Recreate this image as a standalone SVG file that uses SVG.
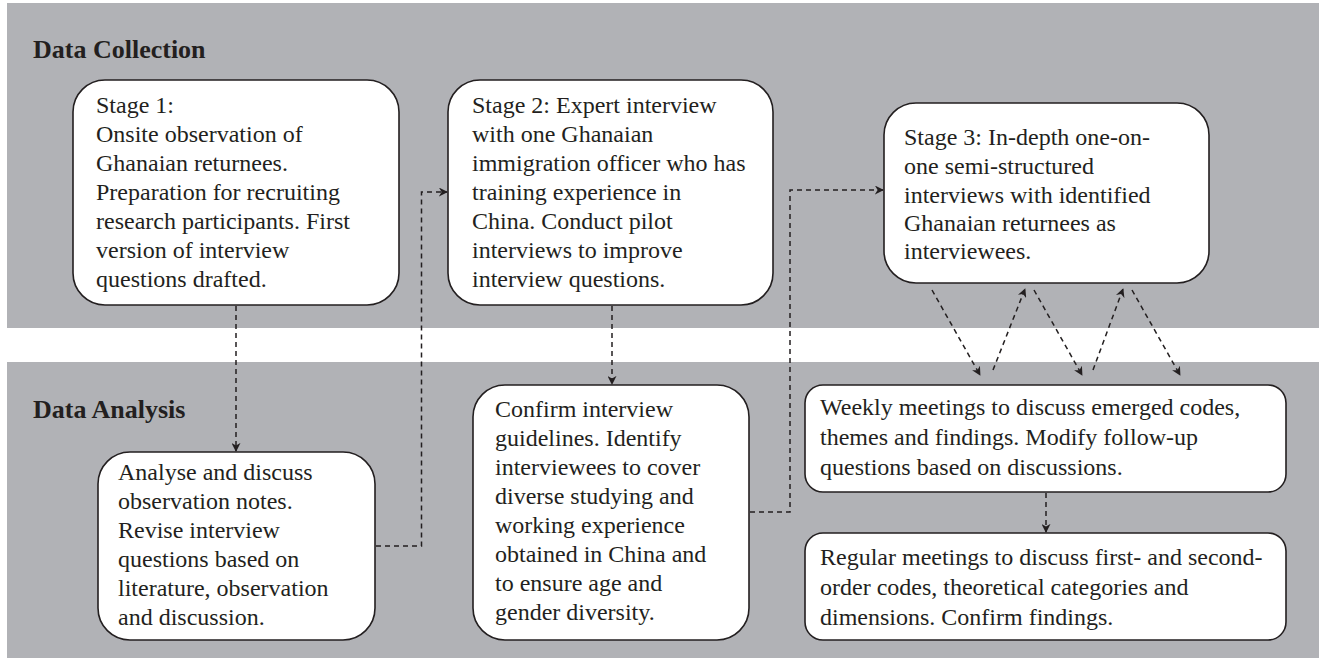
<svg xmlns="http://www.w3.org/2000/svg" width="1323" height="662" viewBox="0 0 1323 662">
<defs>
<style>
.band{fill:#b1b2b6}
.box{fill:#fff;stroke:#231f20;stroke-width:1.6}
.t{font-family:"Liberation Serif","Times New Roman",serif;font-size:24px;fill:#231f20}
.h{font-family:"Liberation Serif","Times New Roman",serif;font-size:26px;font-weight:bold;fill:#231f20}
.c{fill:none;stroke:#231f20;stroke-width:1.5;stroke-dasharray:5,4}
</style>
<marker id="ah" viewBox="0 0 10 10" refX="9" refY="5" markerWidth="9" markerHeight="9" markerUnits="userSpaceOnUse" orient="auto">
<path d="M0,0 L10,5 L0,10 L3,5 Z" fill="#231f20"/>
</marker>
</defs>
<rect width="1323" height="662" fill="#fff"/>
<rect class="band" x="7" y="3" width="1312" height="325"/>
<rect class="band" x="7" y="362" width="1312" height="296"/>
<text class="h" x="33" y="58">Data Collection</text>
<text class="h" x="33" y="418">Data Analysis</text>

<g id="connectors">
<path class="c" d="M236,306 V451" marker-end="url(#ah)"/>
<path class="c" d="M376,546 H421.5 V192 H447" marker-end="url(#ah)"/>
<path class="c" d="M612,306 V384" marker-end="url(#ah)"/>
<path class="c" d="M750,512 H790 V190 H883" marker-end="url(#ah)"/>
<path class="c" d="M932,290 L980,375" marker-end="url(#ah)"/>
<path class="c" d="M993,370 L1025,289" marker-end="url(#ah)"/>
<path class="c" d="M1034,290 L1082,375" marker-end="url(#ah)"/>
<path class="c" d="M1093,370 L1123,289" marker-end="url(#ah)"/>
<path class="c" d="M1132,290 L1180,375" marker-end="url(#ah)"/>
<path class="c" d="M1046,493 V532" marker-end="url(#ah)"/>
</g>

<g id="stage1">
<rect class="box" x="73" y="80" width="326" height="225" rx="32"/>
<text class="t" x="96" y="113">Stage 1:</text>
<text class="t" x="96" y="142">Onsite observation of</text>
<text class="t" x="96" y="171">Ghanaian returnees.</text>
<text class="t" x="96" y="200">Preparation for recruiting</text>
<text class="t" x="96" y="229">research participants. First</text>
<text class="t" x="96" y="258">version of interview</text>
<text class="t" x="96" y="287">questions drafted.</text>
</g>

<g id="stage2">
<rect class="box" x="448" y="80" width="325" height="225" rx="32"/>
<text class="t" x="472" y="113">Stage 2: Expert interview</text>
<text class="t" x="472" y="142">with one Ghanaian</text>
<text class="t" x="472" y="171">immigration officer who has</text>
<text class="t" x="472" y="200">training experience in</text>
<text class="t" x="472" y="229">China. Conduct pilot</text>
<text class="t" x="472" y="258">interviews to improve</text>
<text class="t" x="472" y="287">interview questions.</text>
</g>

<g id="stage3">
<rect class="box" x="884" y="103" width="325" height="180" rx="32"/>
<text class="t" x="904" y="145">Stage 3: In-depth one-on-</text>
<text class="t" x="904" y="174">one semi-structured</text>
<text class="t" x="904" y="203">interviews with identified</text>
<text class="t" x="904" y="231">Ghanaian returnees as</text>
<text class="t" x="904" y="259">interviewees.</text>
</g>

<g id="analyse">
<rect class="box" x="98" y="452" width="277" height="188" rx="32"/>
<text class="t" x="118" y="480">Analyse and discuss</text>
<text class="t" x="118" y="509">observation notes.</text>
<text class="t" x="118" y="538">Revise interview</text>
<text class="t" x="118" y="567">questions based on</text>
<text class="t" x="118" y="596">literature, observation</text>
<text class="t" x="118" y="625">and discussion.</text>
</g>

<g id="confirm">
<rect class="box" x="473" y="385" width="276" height="255" rx="32"/>
<text class="t" x="495" y="417">Confirm interview</text>
<text class="t" x="495" y="446">guidelines. Identify</text>
<text class="t" x="495" y="475">interviewees to cover</text>
<text class="t" x="495" y="504">diverse studying and</text>
<text class="t" x="495" y="533">working experience</text>
<text class="t" x="495" y="562">obtained in China and</text>
<text class="t" x="495" y="591">to ensure age and</text>
<text class="t" x="495" y="620">gender diversity.</text>
</g>

<g id="weekly">
<rect class="box" x="805" y="385" width="481" height="107" rx="18"/>
<text class="t" x="820" y="415">Weekly meetings to discuss emerged codes,</text>
<text class="t" x="820" y="445">themes and findings. Modify follow-up</text>
<text class="t" x="820" y="475">questions based on discussions.</text>
</g>

<g id="regular">
<rect class="box" x="805" y="533" width="481" height="107" rx="18"/>
<text class="t" x="820" y="565">Regular meetings to discuss first- and second-</text>
<text class="t" x="820" y="595">order codes, theoretical categories and</text>
<text class="t" x="820" y="625">dimensions. Confirm findings.</text>
</g>
</svg>
